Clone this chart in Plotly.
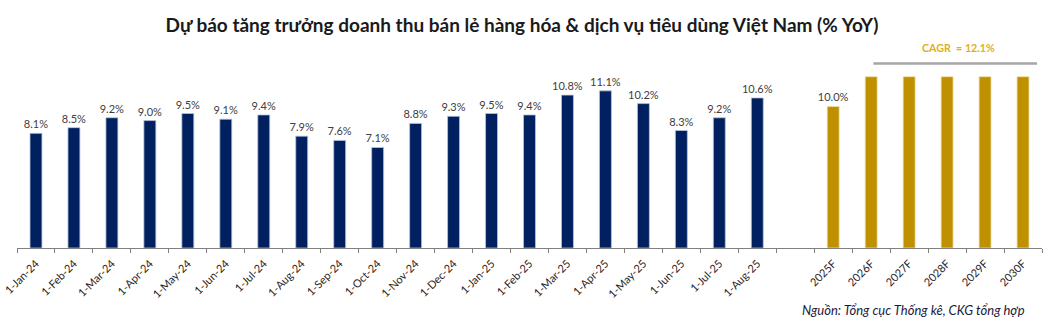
import plotly.graph_objects as go

months = ["1-Jan-24", "1-Feb-24", "1-Mar-24", "1-Apr-24", "1-May-24", "1-Jun-24", "1-Jul-24",
          "1-Aug-24", "1-Sep-24", "1-Oct-24", "1-Nov-24", "1-Dec-24", "1-Jan-25", "1-Feb-25",
          "1-Mar-25", "1-Apr-25", "1-May-25", "1-Jun-25", "1-Jul-25", "1-Aug-25"]
month_values = [8.1, 8.5, 9.2, 9.0, 9.5, 9.1, 9.4, 7.9, 7.6, 7.1, 8.8, 9.3, 9.5, 9.4,
                10.8, 11.1, 10.2, 8.3, 9.2, 10.6]
forecast_years = ["2025F", "2026F", "2027F", "2028F", "2029F", "2030F"]
forecast_values = [10.0, 12.1, 12.1, 12.1, 12.1, 12.1]
forecast_labels = ["10.0%", "", "", "", "", ""]
cagr_text = "CAGR\u00a0 = 12.1%"

title = "Dự báo tăng trưởng doanh thu bán lẻ hàng hóa & dịch vụ tiêu dùng Việt Nam (% YoY)"
source = "Nguồn: Tổng cục Thống kê, CKG tổng hợp"

NAVY = "#002060"
GOLD = "#BF9000"

categories = months + [" "] + forecast_years
values = month_values + [None] + forecast_values
labels = [f"{v:.1f}%" for v in month_values] + [""] + forecast_labels
colors = [NAVY] * len(months) + [NAVY] + [GOLD] * len(forecast_years)
edges = ["#b8c4dc"] * len(months) + ["#b8c4dc"] + ["#f0dfa8"] * len(forecast_years)

fig = go.Figure()
fig.add_trace(go.Bar(
    x=categories, y=values, text=labels, textposition="outside", constraintext="none",
    textfont=dict(family="Lato", size=11, color="#404040"),
    marker=dict(color=colors, line=dict(color=edges, width=0.8)),
    cliponaxis=False, hoverinfo="skip",
))

i26 = categories.index("2026F")
i30 = categories.index("2030F")
fig.add_shape(type="line", xref="x", yref="y",
              x0=i26 + 0.06, x1=i30 + 0.37, y0=13.04, y1=13.04,
              line=dict(color="#a6a6a6", width=2.5))
fig.add_annotation(x=(i26 + i30) / 2 + 0.29, y=1.069, xref="x", yref="paper",
                   yanchor="middle", text=f"<b>{cagr_text}</b>", showarrow=False,
                   font=dict(family="Lato", size=10.7, color="#E0B020"))
fig.add_annotation(x=1.0 - (1041.7 - 1027) / 1027.7, y=-(310 - 248) / 188,
                   xref="paper", yref="paper", text=f"<i>{source}</i>",
                   showarrow=False, xanchor="right", yanchor="middle",
                   font=dict(family="Lato", size=13, color="#1a1a40"))

fig.update_layout(
    width=1044, height=325,
    margin=dict(l=14, r=2, t=60, b=77),
    paper_bgcolor="white", plot_bgcolor="white",
    showlegend=False, bargap=0.685,
    title=dict(text=f"<b>{title}</b>", x=0.5, xanchor="center", y=1 - 25 / 325,
               yanchor="middle", font=dict(family="Lato", size=19, color="#1a1a1a")),
    xaxis=dict(type="category", tickangle=-45, showline=True, linecolor="#808080",
               linewidth=1, ticks="outside", tickson="boundaries", ticklen=4,
               tickcolor="#808080", showgrid=False, ticklabelstandoff=4,
               tickfont=dict(family="Lato", size=11, color="#262626")),
    yaxis=dict(range=[0, 13.28], visible=False, showgrid=False, zeroline=False),
)

fig.write_html("out.html")
